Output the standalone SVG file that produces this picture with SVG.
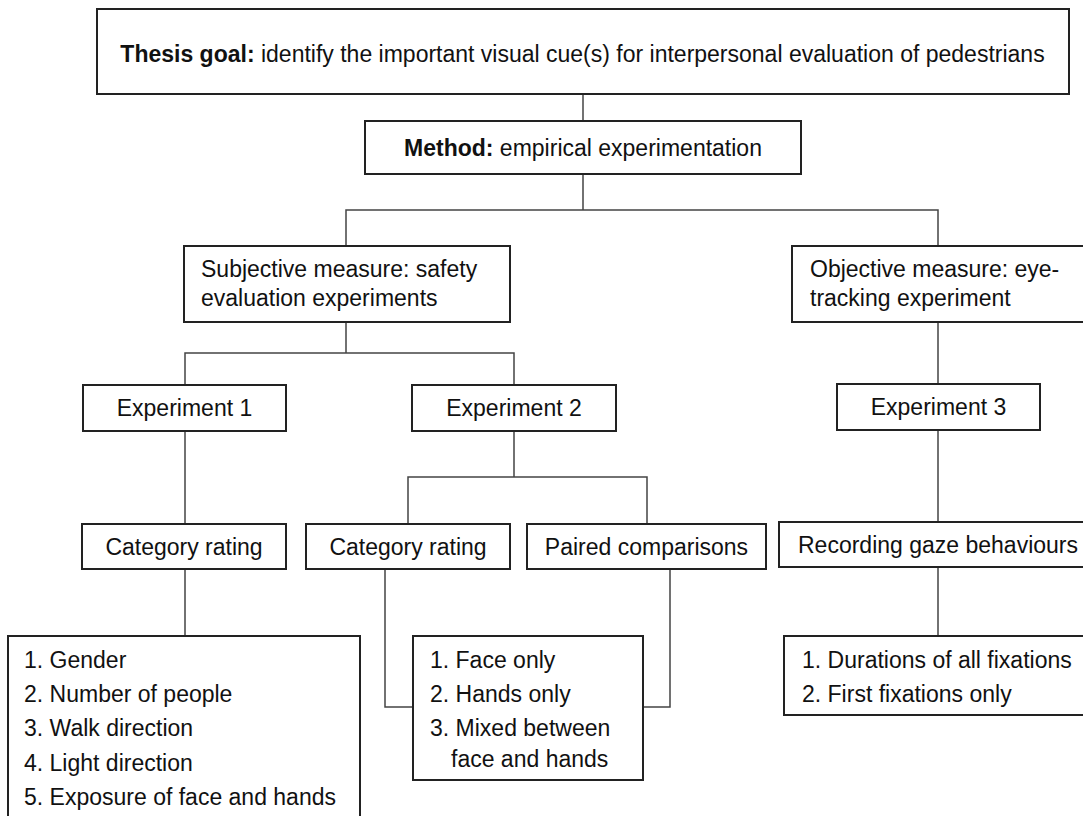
<svg xmlns="http://www.w3.org/2000/svg" width="1083" height="816" viewBox="0 0 1083 816">
<style>
.box{fill:#fff;stroke:#222;stroke-width:2}
.t{font-family:"Liberation Sans",Arial,sans-serif;font-size:23px;fill:#111}
.c{text-anchor:middle}
.b{font-weight:bold}
.ln{fill:none;stroke:#444;stroke-width:1.5}
</style>
<rect width="1083" height="816" fill="#fff"/>
<g id="connectors">
<path class="ln" d="M583 94V121"/>
<path class="ln" d="M583 174V210M346 246V210H938V246"/>
<path class="ln" d="M346 322V353M185 385V353H514V385"/>
<path class="ln" d="M938 322V384M938 430V522M938 567V636"/>
<path class="ln" d="M185 431V524M185 569V636"/>
<path class="ln" d="M514 431V477M408 524V477H647V524"/>
<path class="ln" d="M385 569V707H413M670 569V707H643"/>
</g>
<g id="n-goal"><rect class="box" x="97" y="9" width="972" height="85"/>
<text class="t c" x="582.5" y="62"><tspan class="b">Thesis goal:</tspan> identify the important visual cue(s) for interpersonal evaluation of pedestrians</text></g>
<g id="n-method"><rect class="box" x="365" y="121" width="436" height="53"/>
<text class="t c" x="583" y="156"><tspan class="b">Method:</tspan> empirical experimentation</text></g>
<g id="n-subjective"><rect class="box" x="184" y="246" width="326" height="76"/>
<text class="t" x="201" y="277">Subjective measure: safety</text>
<text class="t" x="201" y="306">evaluation experiments</text></g>
<g id="n-objective"><rect class="box" x="792" y="246" width="300" height="76"/>
<text class="t" x="810" y="277">Objective measure: eye-</text>
<text class="t" x="810" y="306">tracking experiment</text></g>
<g id="n-exp1"><rect class="box" x="83" y="385" width="203" height="46"/>
<text class="t c" x="184.5" y="416">Experiment 1</text></g>
<g id="n-exp2"><rect class="box" x="412" y="385" width="204" height="46"/>
<text class="t c" x="514" y="416">Experiment 2</text></g>
<g id="n-exp3"><rect class="box" x="837" y="384" width="203" height="46"/>
<text class="t c" x="938.5" y="415">Experiment 3</text></g>
<g id="n-cat1"><rect class="box" x="82" y="524" width="204" height="45"/>
<text class="t c" x="184" y="555">Category rating</text></g>
<g id="n-cat2"><rect class="box" x="306" y="524" width="204" height="45"/>
<text class="t c" x="408" y="555">Category rating</text></g>
<g id="n-paired"><rect class="box" x="527" y="524" width="239" height="45"/>
<text class="t c" x="646.5" y="555">Paired comparisons</text></g>
<g id="n-gaze"><rect class="box" x="779" y="522" width="320" height="45"/>
<text class="t" x="798" y="553">Recording gaze behaviours</text></g>
<g id="n-list1"><rect class="box" x="8" y="636" width="352" height="200"/>
<text class="t" x="24" y="668">1. Gender</text>
<text class="t" x="24" y="702">2. Number of people</text>
<text class="t" x="24" y="736">3. Walk direction</text>
<text class="t" x="24" y="771">4. Light direction</text>
<text class="t" x="24" y="805">5. Exposure of face and hands</text></g>
<g id="n-list2"><rect class="box" x="413" y="636" width="230" height="144"/>
<text class="t" x="430" y="668">1. Face only</text>
<text class="t" x="430" y="702">2. Hands only</text>
<text class="t" x="430" y="736">3. Mixed between</text>
<text class="t" x="451" y="767">face and hands</text></g>
<g id="n-list3"><rect class="box" x="784" y="636" width="320" height="79"/>
<text class="t" x="802" y="668">1. Durations of all fixations</text>
<text class="t" x="802" y="702">2. First fixations only</text></g>
</svg>
